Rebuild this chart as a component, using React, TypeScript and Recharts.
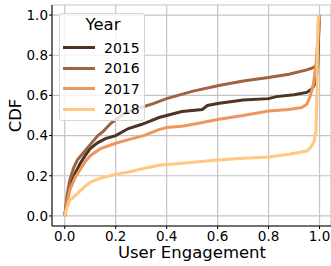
import { LineChart, Line, XAxis, YAxis, CartesianGrid, Legend } from 'recharts';

// CDF points: [engagement, cdf]
const cdf2015 = [
  [0, 0], [0.01, 0.09], [0.02, 0.15], [0.04, 0.21], [0.06, 0.26], [0.08, 0.3], [0.1, 0.335],
  [0.13, 0.365], [0.16, 0.385], [0.2, 0.4], [0.25, 0.435], [0.3, 0.455], [0.33, 0.47],
  [0.37, 0.49], [0.4, 0.5], [0.46, 0.52], [0.54, 0.53], [0.56, 0.55], [0.6, 0.56], [0.7, 0.577],
  [0.8, 0.584], [0.83, 0.594], [0.9, 0.603], [0.95, 0.615], [0.97, 0.632], [0.985, 0.665],
  [0.993, 0.75], [0.997, 0.95], [1, 1],
];
const cdf2016 = [
  [0, 0], [0.01, 0.11], [0.02, 0.18], [0.035, 0.24], [0.05, 0.28], [0.07, 0.31], [0.1, 0.355],
  [0.13, 0.4], [0.15, 0.42], [0.18, 0.46], [0.2, 0.48], [0.25, 0.52], [0.3, 0.54], [0.35, 0.56],
  [0.4, 0.584], [0.5, 0.62], [0.6, 0.648], [0.7, 0.672], [0.8, 0.689], [0.88, 0.705],
  [0.95, 0.727], [0.975, 0.738], [0.988, 0.75], [0.995, 0.85], [1, 1],
];
const cdf2017 = [
  [0, 0], [0.01, 0.07], [0.02, 0.13], [0.04, 0.19], [0.06, 0.23], [0.08, 0.27], [0.1, 0.3],
  [0.14, 0.335], [0.2, 0.362], [0.25, 0.38], [0.31, 0.4], [0.37, 0.43], [0.4, 0.44],
  [0.46, 0.447], [0.52, 0.46], [0.6, 0.48], [0.7, 0.5], [0.8, 0.522], [0.88, 0.53],
  [0.93, 0.54], [0.95, 0.556], [0.962, 0.59], [0.975, 0.65], [0.986, 0.75], [0.993, 0.88], [1, 1],
];
const cdf2018 = [
  [0, 0], [0.01, 0.045], [0.02, 0.078], [0.04, 0.1], [0.06, 0.125], [0.08, 0.148], [0.1, 0.168],
  [0.14, 0.188], [0.2, 0.207], [0.25, 0.219], [0.31, 0.236], [0.37, 0.252], [0.46, 0.262],
  [0.6, 0.279], [0.7, 0.287], [0.8, 0.294], [0.88, 0.307], [0.95, 0.323], [0.965, 0.34],
  [0.978, 0.37], [0.986, 0.42], [0.99, 0.6], [0.993, 0.95], [0.996, 1],
];

const years = ['2015', '2016', '2017', '2018'];
const colors = ['#4f3220', '#9e6440', '#ed965e', '#ffc77f'];
const curves = [cdf2015, cdf2016, cdf2017, cdf2018];
const ticks = [0, 0.2, 0.4, 0.6, 0.8, 1.0];

const FONT = '"DejaVu Sans", sans-serif';

const toRows = (pts: number[][]) => pts.map(([x, y]) => ({ x, y }));

function YearLegend() {
  return (
    <div
      style={{
        position: 'relative',
        width: 86,
        height: 108,
        boxSizing: 'border-box',
        background: 'rgba(255,255,255,0.8)',
        border: '1px solid #d6d6d6',
        borderRadius: 3,
        fontFamily: FONT,
        color: '#000',
      }}
    >
      <div style={{ position: 'absolute', left: 0, top: 0, width: 86, textAlign: 'center', fontSize: 16.5, lineHeight: '22px' }}>
        Year
      </div>
      {years.map((y, i) => (
        <div key={y} style={{ position: 'absolute', left: 0, top: 23.5 + i * 20.5, height: 20, width: 86 }}>
          <div style={{ position: 'absolute', left: 3, top: 8.5, width: 32, height: 3, background: colors[i] }} />
          <div style={{ position: 'absolute', left: 44, top: 0, fontSize: 14, lineHeight: '20px' }}>{y}</div>
        </div>
      ))}
    </div>
  );
}

export default function App() {
  return (
    <div style={{ position: 'fixed', left: 0, top: 0, width: 331, height: 266, overflow: 'hidden', background: '#fff' }}>
      <LineChart width={331} height={266} margin={{ top: 5, right: 0, left: 0, bottom: 0 }}>
        <CartesianGrid stroke="#c4c4c4" strokeWidth={1.2} />
        <XAxis
          dataKey="x"
          type="number"
          domain={[-0.05, 1.045]}
          ticks={ticks}
          allowDataOverflow
          height={40}
          tickSize={3}
          tickMargin={2}
          tickFormatter={(v: number) => v.toFixed(1)}
          stroke="#000"
          tick={{ fill: '#000', fontSize: 13.5, fontFamily: FONT }}
          label={({ viewBox }: any) => (
            <text x={192} y={viewBox.y + 32} textAnchor="middle" fontSize={16.5} fontFamily={FONT} fill="#000">
              User Engagement
            </text>
          )}
        />
        <XAxis xAxisId="top" orientation="top" type="number" domain={[-0.05, 1.045]} height={0} tick={false} tickLine={false} stroke="#000" />
        <YAxis
          type="number"
          domain={[-0.05, 1.05]}
          ticks={ticks}
          allowDataOverflow
          width={52}
          tickSize={3}
          tickMargin={1}
          tickFormatter={(v: number) => v.toFixed(1)}
          stroke="#000"
          tick={{ fill: '#000', fontSize: 13.5, fontFamily: FONT }}
          label={({ viewBox }: any) => (
            <text
              x={21}
              y={viewBox.y + viewBox.height / 2}
              textAnchor="middle"
              fontSize={16.5}
              fontFamily={FONT}
              fill="#000"
              transform={`rotate(-90 21 ${viewBox.y + viewBox.height / 2})`}
            >
              CDF
            </text>
          )}
        />
        <Legend
          layout="vertical"
          align="center"
          verticalAlign="middle"
          content={() => <YearLegend />}
          wrapperStyle={{ left: 59, top: 13, width: 86, height: 108 }}
        />
        {years.map((y, i) => (
          <Line
            key={y}
            data={toRows(curves[i])}
            dataKey="y"
            name={y}
            type="linear"
            stroke={colors[i]}
            strokeWidth={3}
            dot={false}
            isAnimationActive={false}
          />
        ))}
      </LineChart>
    </div>
  );
}
